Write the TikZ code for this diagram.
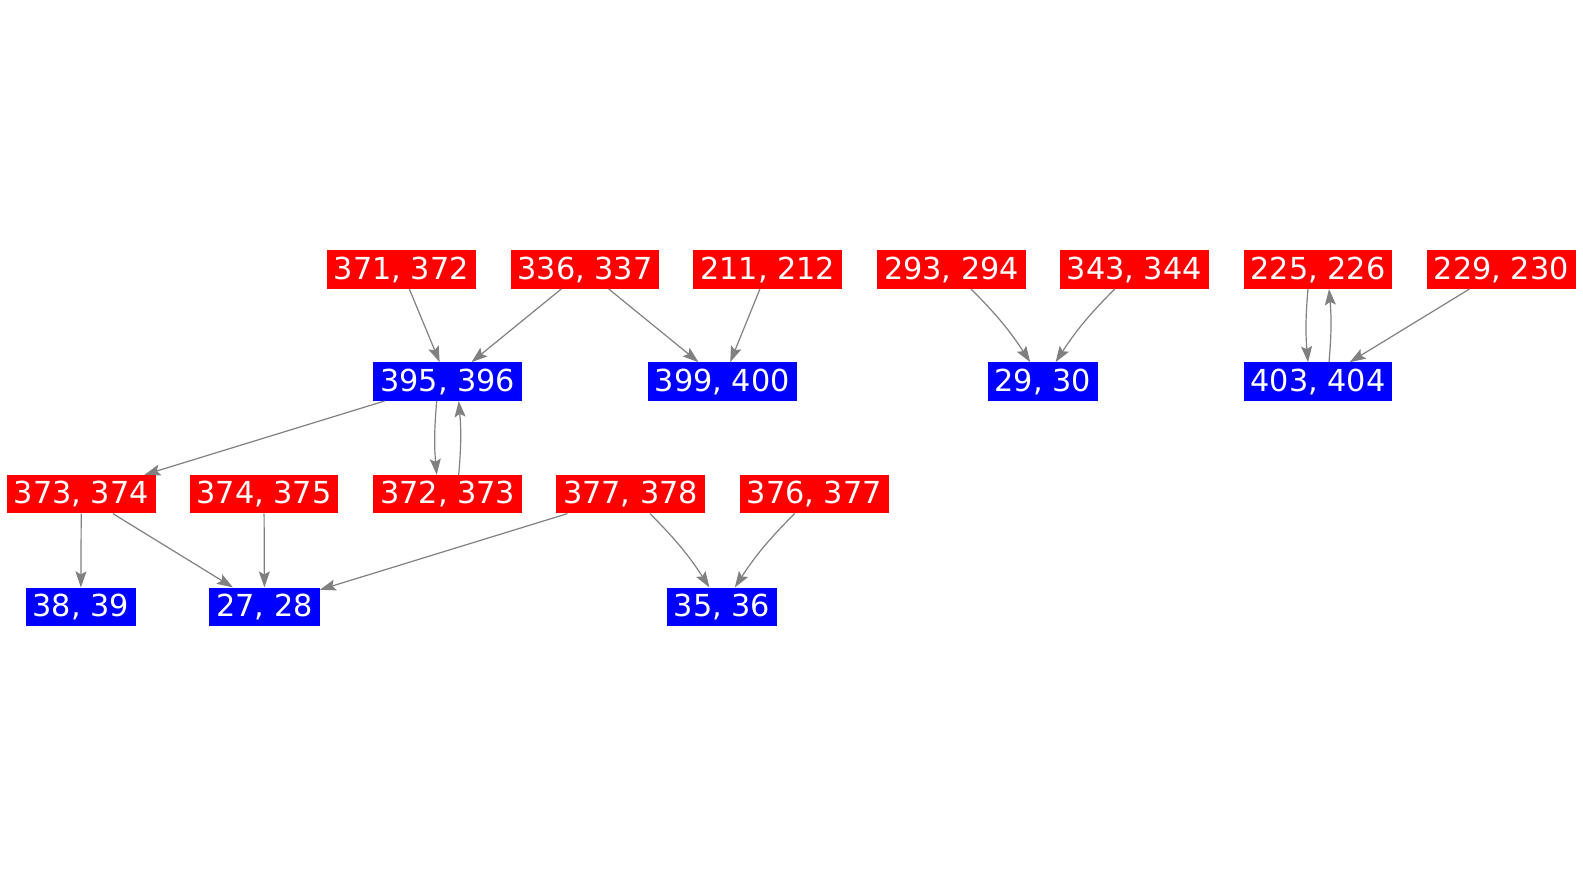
\documentclass[tikz,border=0pt]{standalone}
\usepackage{fontspec}
\setmainfont{DejaVu Sans}
\usetikzlibrary{arrows.meta}

\begin{document}
\begin{tikzpicture}[x=1pt, y=-1pt,
    pair/.style={inner xsep=7pt, inner ysep=0pt, minimum height=38.4pt,
        text=white, font=\fontsize{30.3}{35}\selectfont},
    src/.style={pair, fill=red},
    dst/.style={pair, fill=blue},
    link/.style={draw=gray, line width=1.2pt,
        -{Stealth[length=16pt, width=11pt, inset=3pt]}}]
    % Page area (pixel units, y pointing down)
    \useasboundingbox (0,0) rectangle (1583,875);

    % Top row (red)
    \node[src] (s371) at (401.3,269.6) {371, 372};
    \node[src] (s336) at (585.0,269.6) {336, 337};
    \node[src] (s211) at (767.8,269.6) {211, 212};
    \node[src] (s293) at (951.5,269.6) {293, 294};
    \node[src] (s343) at (1134.3,269.6) {343, 344};
    \node[src] (s225) at (1318.0,269.6) {225, 226};
    \node[src] (s229) at (1501.2,269.6) {229, 230};

    % Second row (blue)
    \node[dst] (d395) at (447.7,381.6) {395, 396};
    \node[dst] (d399) at (722.3,381.6) {399, 400};
    \node[dst] (d29)  at (1042.9,381.6) {29, 30};
    \node[dst] (d403) at (1318.0,381.6) {403, 404};

    % Third row (red)
    \node[src] (s373) at (81.3,494.2) {373, 374};
    \node[src] (s374) at (264.0,494.2) {374, 375};
    \node[src] (s372) at (447.7,494.2) {372, 373};
    \node[src] (s377) at (630.5,494.2) {377, 378};
    \node[src] (s376) at (814.2,494.2) {376, 377};

    % Bottom row (blue)
    \node[dst] (d38) at (80.8,606.8) {38, 39};
    \node[dst] (d27) at (264.5,606.8) {27, 28};
    \node[dst] (d35) at (722.1,606.8) {35, 36};

    % Edges into the second row
    \draw[link] (s371) -- (d395);
    \draw[link] (s336) -- (d395);
    \draw[link] (s336) -- (d399);
    \draw[link] (s211) -- (d399);
    \draw[link] (s293) to[bend left=6] (d29);
    \draw[link] (s343) to[bend right=6] (d29);
    \draw[link] ([xshift=-10pt]s225.south) to[bend right=5] ([xshift=-10pt]d403.north);
    \draw[link] ([xshift=11pt]d403.north) to[bend right=5] ([xshift=11pt]s225.south);
    \draw[link] (s229) -- (d403);

    % Edges out of 395, 396 (and back)
    \draw[link] (d395) -- (s373);
    \draw[link] ([xshift=-11pt]d395.south) to[bend right=5] ([xshift=-11pt]s372.north);
    \draw[link] ([xshift=11pt]s372.north) to[bend right=5] ([xshift=11pt]d395.south);

    % Edges into the bottom row
    \draw[link] (s373) -- (d38);
    \draw[link] (s373) -- (d27);
    \draw[link] (s374) -- (d27);
    \draw[link] (s377) -- (d27);
    \draw[link] (s377) to[bend left=6] (d35);
    \draw[link] (s376) to[bend right=6] (d35);
\end{tikzpicture}
\end{document}
